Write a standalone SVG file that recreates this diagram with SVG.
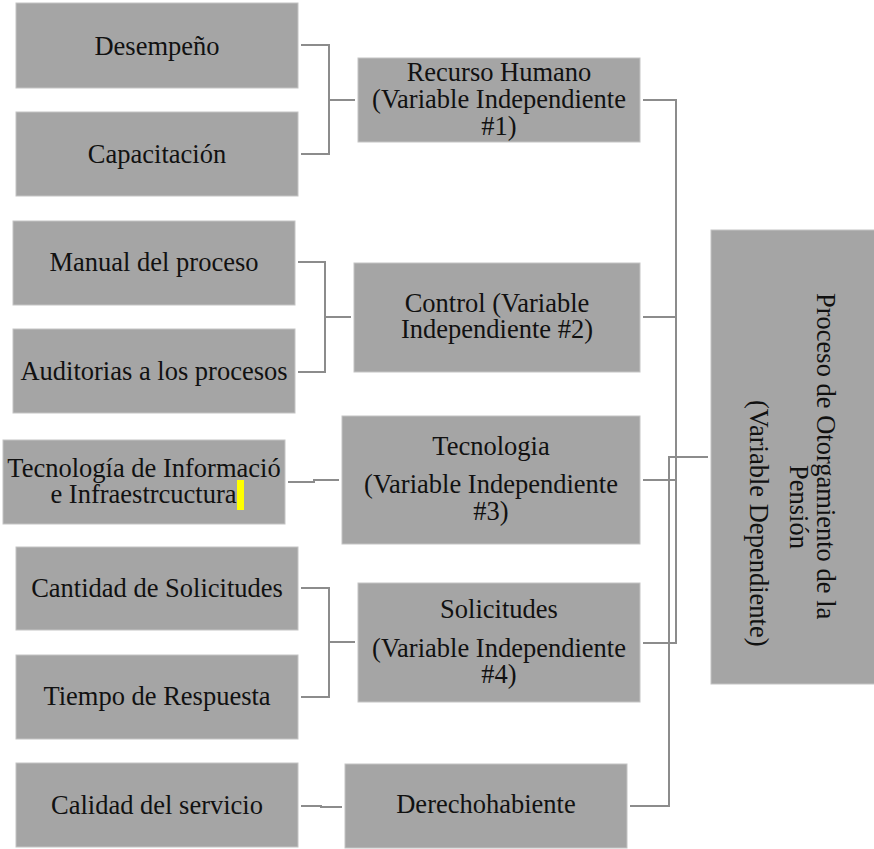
<svg xmlns="http://www.w3.org/2000/svg" width="874" height="849" viewBox="0 0 874 849">
<style>
.box{fill:#a5a5a5;stroke:#c4c4c4;stroke-width:1}
.t{font-size:26.5px;fill:#111;text-anchor:middle}
.ts{font-size:26.5px;fill:#111}
.c{fill:none;stroke:#8c8c8c;stroke-width:2}
</style>
<rect width="874" height="849" fill="#fff"/>
<g font-family="Liberation Serif, Times New Roman, Times, serif">
<g id="n_desempeno"><rect class="box" x="16" y="3" width="282" height="85"/><text class="t" x="157" y="55">Desempeño</text></g>
<g id="n_capacitacion"><rect class="box" x="16" y="112" width="282" height="84"/><text class="t" x="157" y="163">Capacitación</text></g>
<g id="n_recurso"><rect class="box" x="358" y="58" width="282" height="84"/><text class="t" x="499" y="81">Recurso Humano</text><text class="t" x="499" y="108">(Variable Independiente</text><text class="t" x="499" y="135">#1)</text></g>
<g id="n_manual"><rect class="box" x="13" y="221" width="282" height="84"/><text class="t" x="154" y="271">Manual del proceso</text></g>
<g id="n_auditorias"><rect class="box" x="13" y="329" width="282" height="84"/><text class="t" x="154" y="380">Auditorias a los procesos</text></g>
<g id="n_control"><rect class="box" x="354" y="263" width="286" height="109"/><text class="t" x="497" y="312">Control (Variable</text><text class="t" x="497" y="338">Independiente #2)</text></g>
<g id="n_tecinfo"><rect class="box" x="3" y="440" width="282" height="84"/><text class="t" x="144" y="477">Tecnología de Informació</text><text class="t" x="143.5" y="503">e Infraestrcuctura</text><rect x="237" y="480" width="7" height="30" fill="#ffff00"/></g>
<g id="n_tecnologia"><rect class="box" x="342" y="416" width="298" height="128"/><text class="t" x="491" y="455">Tecnologia</text><text class="t" x="491" y="493">(Variable Independiente</text><text class="t" x="491" y="520">#3)</text></g>
<g id="n_cantidad"><rect class="box" x="16" y="547" width="282" height="83"/><text class="t" x="157" y="597">Cantidad de Solicitudes</text></g>
<g id="n_tiempo"><rect class="box" x="16" y="655" width="282" height="84"/><text class="t" x="157" y="705">Tiempo de Respuesta</text></g>
<g id="n_solicitudes"><rect class="box" x="358" y="583" width="282" height="119"/><text class="t" x="499" y="618">Solicitudes</text><text class="t" x="499" y="657">(Variable Independiente</text><text class="t" x="499" y="683">#4)</text></g>
<g id="n_calidad"><rect class="box" x="16" y="763" width="282" height="84"/><text class="t" x="157" y="814">Calidad del servicio</text></g>
<g id="n_derecho"><rect class="box" x="345" y="764" width="282" height="84"/><text class="t" x="486" y="813">Derechohabiente</text></g>
<g id="n_dependiente"><rect class="box" x="711" y="230" width="164" height="454"/>
<text class="ts" transform="translate(817,293) rotate(90)">Proceso de Otorgamiento de la</text>
<text class="ts" transform="translate(790,465) rotate(90)">Pensión</text>
<text class="ts" transform="translate(750,400) rotate(90)">(Variable Dependiente)</text></g>
</g>
<g id="connectors">
<polyline class="c" points="301,45 329,45 329,154 301,154"/><line class="c" x1="329" y1="100" x2="355" y2="100"/>
<polyline class="c" points="298,262 325,262 325,372 298,372"/><line class="c" x1="325" y1="317" x2="351" y2="317"/>
<polyline class="c" points="288,482 314,482 314,480 339,480"/>
<polyline class="c" points="301,588 329,588 329,697 301,697"/><line class="c" x1="329" y1="642" x2="355" y2="642"/>
<polyline class="c" points="301,806 321,806 321,807 342,807"/>
<polyline class="c" points="643,100 676,100 676,643 643,643"/>
<line class="c" x1="643" y1="317" x2="676" y2="317"/>
<line class="c" x1="643" y1="480" x2="676" y2="480"/>
<polyline class="c" points="630,806 669,806 669,457 708,457"/>
</g>
</svg>
